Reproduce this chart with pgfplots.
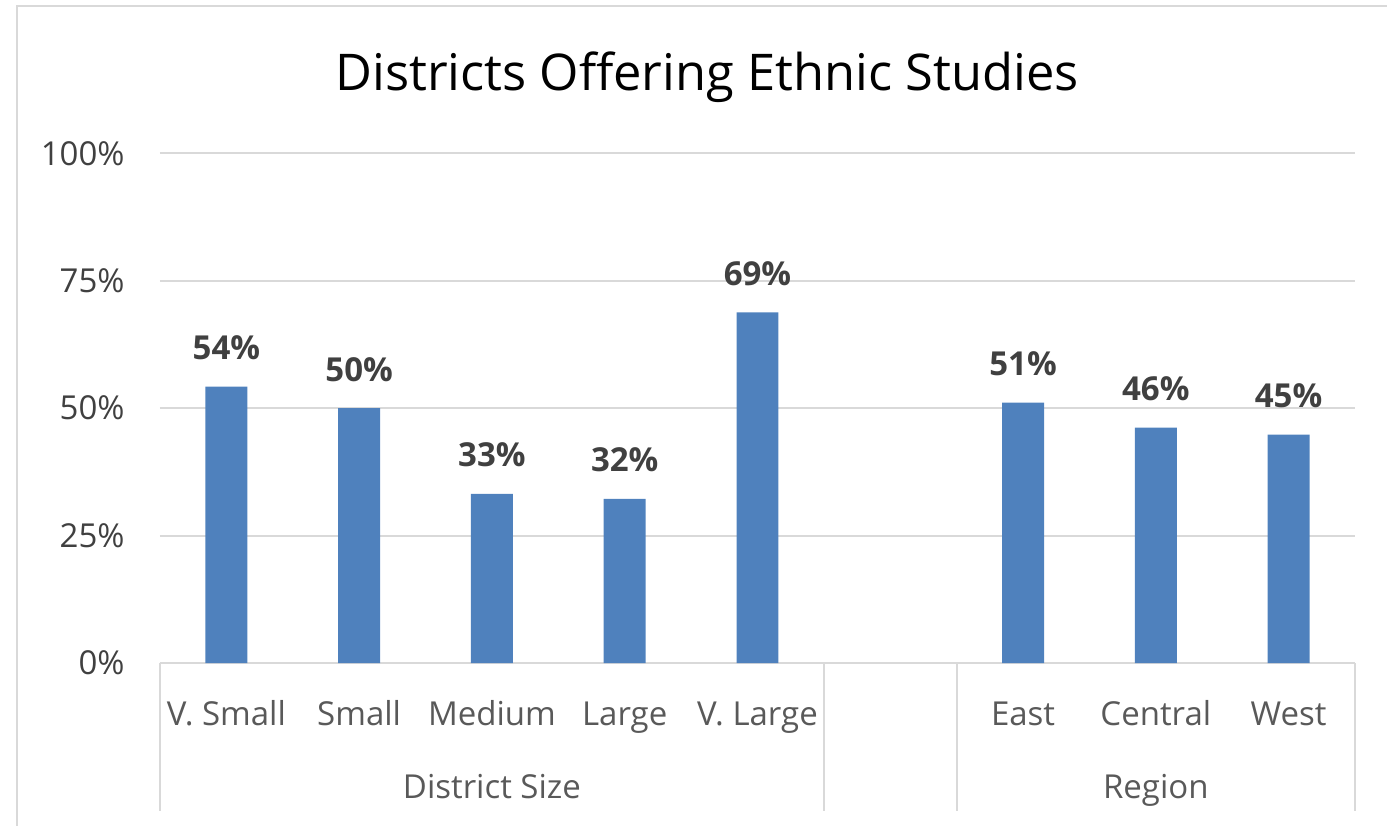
\documentclass[border=0pt]{standalone}
\usepackage{pgfplots}
\pgfplotsset{compat=1.18}
\usepackage{fontspec}
\setmainfont{Open Sans}
\definecolor{barblue}{HTML}{4F81BD}
\definecolor{gridgray}{HTML}{D9D9D9}
\definecolor{labgray}{HTML}{595959}
\definecolor{datgray}{HTML}{404040}
\begin{document}
\begin{tikzpicture}
\useasboundingbox (-80pt,-81pt) rectangle (613.5pt,331.5pt);
\draw[gridgray, line width=1.3pt] (-71.5pt,-82pt) -- (-71.5pt,328.5pt) -- (614pt,328.5pt);
\begin{axis}[
  scale only axis,
  width=597.5pt, height=254.85pt,
  xmin=-0.5, xmax=8.5, ymin=0, ymax=100,
  axis line style={draw=none},
  tick style={draw=none},
  ymajorgrids,
  major grid style={gridgray, line width=1pt},
  ytick={0,25,50,75,100},
  yticklabels={0\%,25\%,50\%,75\%,100\%},
  yticklabel style={anchor=east, inner sep=0pt, xshift=-17.5pt, yshift=0pt, font=\fontsize{16.5pt}{18pt}\selectfont, text=datgray},
  xtick={0,1,2,3,4,5,6,7,8},
  xticklabels={V. Small,Small,Medium,Large,V. Large,{},East,Central,West},
  xticklabel style={anchor=base, inner sep=0pt, yshift=-27pt, font=\fontsize{16.5pt}{18pt}\selectfont, text=labgray},
  clip=false,
  /pgf/number format/assume math mode=true,
  ybar, bar width=0.316,
  nodes near coords={\pgfmathprintnumber[fixed,precision=0]{\pgfplotspointmeta}\%},
  nodes near coords style={anchor=base, inner sep=0pt, yshift=13.5pt, font=\bfseries\fontsize{16.5pt}{18pt}\selectfont, text=datgray},
]
\addplot[fill=barblue, draw=none] coordinates {
  (0,54.2) (1,50.0) (2,33.2) (3,32.2) (4,68.8)
  (6,51.1) (7,46.2) (8,44.8)
};
\draw[gridgray, line width=1pt] (axis cs:-0.5,0) -- ([yshift=-74pt]axis cs:-0.5,0);
\draw[gridgray, line width=1pt] (axis cs:4.5,0) -- ([yshift=-74pt]axis cs:4.5,0);
\draw[gridgray, line width=1pt] (axis cs:5.5,0) -- ([yshift=-74pt]axis cs:5.5,0);
\draw[gridgray, line width=1pt] (axis cs:8.5,0) -- ([yshift=-74pt]axis cs:8.5,0);
\node[anchor=base, inner sep=0pt, text=labgray, font=\fontsize{16.5pt}{18pt}\selectfont] at ([yshift=-67.5pt]axis cs:2,0) {District Size};
\node[anchor=base, inner sep=0pt, text=labgray, font=\fontsize{16.5pt}{18pt}\selectfont] at ([yshift=-67.5pt]axis cs:7,0) {Region};
\end{axis}
\node[anchor=base, inner sep=0pt, text=black, font=\fontsize{25.3pt}{30pt}\selectfont] at (273.5pt,286pt) {Districts Offering Ethnic Studies};
\end{tikzpicture}
\end{document}
